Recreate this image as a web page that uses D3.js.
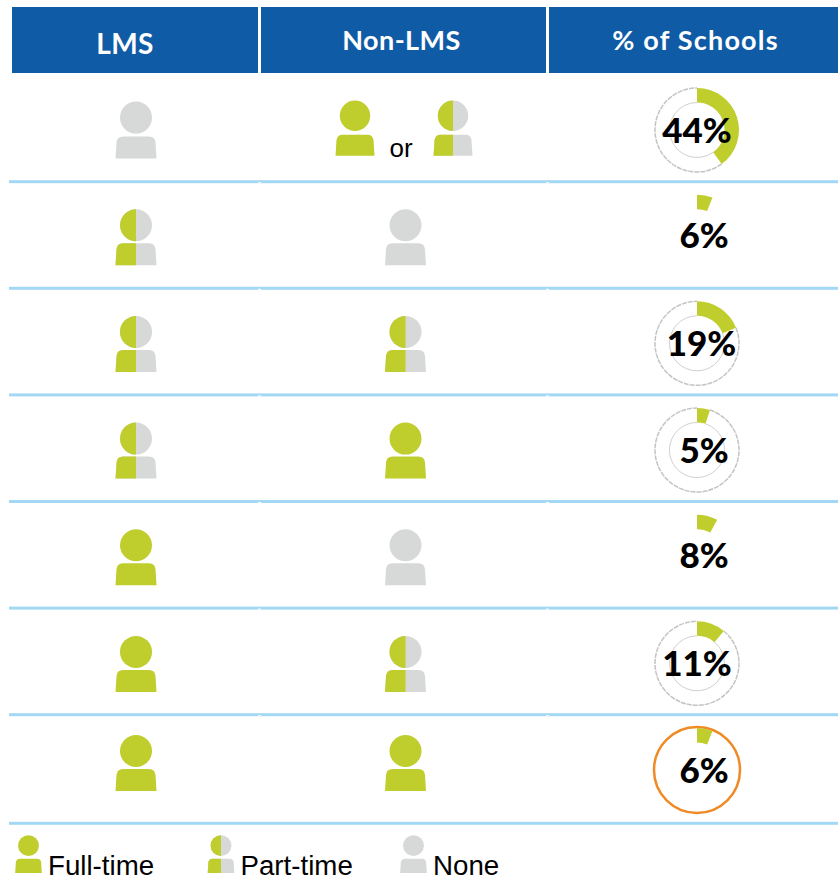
<!DOCTYPE html>
<html>
<head>
<meta charset="utf-8">
<script src="https://cdn.jsdelivr.net/npm/d3@7"></script>
<style>
  html, body { margin: 0; padding: 0; background: #fff; overflow: hidden; }
  svg { display: block; }
</style>
</head>
<body>
<svg id="chart"></svg>
<script>
const headers = ['LMS', 'Non-LMS', '% of Schools'];
const lmsState = ['none', 'part', 'part', 'part', 'full', 'full', 'full'];
const nonLmsState = [['full', 'part'], ['none'], ['part'], ['full'], ['none'], ['part'], ['full']];
const percentLabels = ['44%', '6%', '19%', '5%', '8%', '11%', '6%'];
// the wedge in the first row is drawn shorter than its label says
const wedgeValues = [40, 6, 19, 5, 8, 11, 6];
const ringStyle = ['gray', 'none', 'gray', 'gray', 'none', 'gray', 'orange'];
const legendStates = ['full', 'part', 'none'];
const legendLabels = ['Full-time', 'Part-time', 'None'];

const w = 838;
const h = 880;
const green = '#bfce2d';
const gray = '#d7d8d8';
const blue = '#105ba6';
const ruleColor = '#a3d8f4';
const orange = '#f08a24';
const titleFont = 'Lato, sans-serif';
const textFont = '"Liberation Sans", Arial, sans-serif';

const svg = d3.select('#chart').attr('width', w).attr('height', h);

const rows = d3.range(percentLabels.length);
const rowY = d3.scaleLinear().domain([0, 6]).range([130, 770]);
const ruleY = d3.scaleLinear().domain([0, 5]).range([181.7, 714.7]);
const iconBottom = i => (i === 6 ? 791 : rowY(i) + 28.6);
const angle = d3.scaleLinear().domain([0, 100]).range([0, 2 * Math.PI]);
const columns = [
  {x: 12, width: 246, center: 136},
  {x: 261, width: 285, center: 405.5},
  {x: 549, width: 289, center: 697}
];

// HEADER
svg.selectAll('rect.head')
  .data(headers)
  .enter()
  .append('rect')
  .attr('class', 'head')
  .attr('x', (d, i) => columns[i].x)
  .attr('y', 7)
  .attr('width', (d, i) => columns[i].width)
  .attr('height', 66)
  .attr('fill', blue);

svg.selectAll('text.head')
  .data(headers)
  .enter()
  .append('text')
  .attr('class', 'head')
  .attr('x', (d, i) => [125, 401.5, 695.5][i])
  .attr('y', (d, i) => (i === 0 ? 54 : 50))
  .attr('text-anchor', 'middle')
  .attr('font-family', titleFont)
  .attr('font-weight', 700)
  .attr('font-size', (d, i) => (i === 0 ? 28 : 27))
  .attr('letter-spacing', (d, i) => (i === 2 ? 1.2 : 0.4))
  .attr('fill', '#fff')
  .text(d => d);

// RULES
const ruleRows = rows.slice(0, 6).map(i => ruleY(i)).concat([823.3]);
svg.selectAll('rect.rule')
  .data(ruleRows)
  .enter()
  .append('rect')
  .attr('class', 'rule')
  .attr('x', 9)
  .attr('y', d => d - 1.5)
  .attr('width', w - 9)
  .attr('height', 3)
  .attr('fill', ruleColor);

// small white nicks where the column gaps meet the rules
ruleRows.slice(0, 6).forEach(y => {
  [258, 546].forEach(x => {
    svg.append('rect')
      .attr('x', x)
      .attr('y', y + 0.5)
      .attr('width', 3)
      .attr('height', 1)
      .attr('fill', '#fff');
  });
});

// PERSON ICONS
const defs = svg.append('defs');
defs.append('clipPath').attr('id', 'left-half')
  .append('rect').attr('x', -30).attr('y', -70).attr('width', 30).attr('height', 80);

function personShape(g, lift) {
  g.append('circle').attr('cx', 0).attr('cy', -40 - lift).attr('r', 16);
  const p = d3.path();
  p.moveTo(-20.5, 0);
  p.lineTo(-19.5, -16);
  p.quadraticCurveTo(-19, -22, -13, -22);
  p.lineTo(13, -22);
  p.quadraticCurveTo(19, -22, 19.5, -16);
  p.lineTo(20.5, 0);
  p.closePath();
  g.append('path').attr('d', p.toString());
}

function drawPerson(x, bottom, state, scale, lift) {
  const g = svg.append('g')
    .attr('class', 'person')
    .attr('transform', 'translate(' + x + ',' + bottom + ') scale(' + scale + ')');
  const base = g.append('g').attr('fill', state === 'full' ? green : gray);
  personShape(base, lift);
  if (state === 'part') {
    const half = g.append('g').attr('fill', green).attr('clip-path', 'url(#left-half)');
    personShape(half, lift);
  }
}

rows.forEach(i => {
  drawPerson(columns[0].center, iconBottom(i), lmsState[i], 1, i === 0 ? 1 : 0);
  if (nonLmsState[i].length === 1) {
    drawPerson(columns[1].center, iconBottom(i), nonLmsState[i][0], 1, 0);
  } else {
    drawPerson(355, 155.7, nonLmsState[i][0], 0.95, 2);
    drawPerson(453, 155.7, nonLmsState[i][1], 0.95, 2);
    svg.append('text')
      .attr('x', 401)
      .attr('y', 157)
      .attr('text-anchor', 'middle')
      .attr('font-family', textFont)
      .attr('font-size', 26)
      .attr('fill', '#000')
      .text('or');
  }
});

// DONUTS
const innerR = 27.5;
const outerR = 42;
const wedge = d3.arc().innerRadius(innerR).outerRadius(outerR);

// one way stroke round the part of the ring the wedge leaves free
function ringRest(r, value) {
  const p = d3.path();
  p.arc(0, 0, r, angle(value) - Math.PI / 2, 1.5 * Math.PI);
  return p.toString();
}

rows.forEach(i => {
  const g = svg.append('g')
    .attr('class', 'donut')
    .attr('transform', 'translate(' + columns[2].center + ',' + rowY(i) + ')');
  if (ringStyle[i] === 'gray') {
    g.append('path')
      .attr('d', ringRest(outerR, wedgeValues[i]))
      .attr('fill', 'none')
      .attr('stroke', '#c4c4c4')
      .attr('stroke-width', 1.5)
      .attr('stroke-dasharray', '5 1');
    g.append('path')
      .attr('d', ringRest(innerR, wedgeValues[i]))
      .attr('fill', 'none')
      .attr('stroke', '#d0d0d0')
      .attr('stroke-width', 1);
  }
  if (ringStyle[i] === 'orange') {
    g.append('circle')
      .attr('r', 43)
      .attr('fill', 'none')
      .attr('stroke', orange)
      .attr('stroke-width', 2.5);
  }
  g.append('path')
    .attr('d', wedge({startAngle: 0, endAngle: angle(wedgeValues[i])}))
    .attr('fill', green);
  g.append('text')
    .attr('dx', percentLabels[i].length === 2 ? 7 : (percentLabels[i] === '19%' ? 4.5 : 0))
    .attr('y', i === 1 || i === 4 ? 11 : 12.5)
    .attr('text-anchor', 'middle')
    .attr('font-family', titleFont)
    .attr('font-weight', 900)
    .attr('font-size', 35)
    .attr('fill', '#000')
    .text(percentLabels[i]);
});

// LEGEND
const legendX = d3.scalePoint().domain(legendStates).range([28.5, 413.5]);
legendStates.forEach((s, i) => {
  drawPerson(legendX(s), 873, s, 0.65, 2);
  svg.append('text')
    .attr('x', legendX(s) + 19.5)
    .attr('y', 875)
    .attr('font-family', textFont)
    .attr('font-size', 27.7)
    .attr('fill', '#000')
    .text(legendLabels[i]);
});
</script>
</body>
</html>
